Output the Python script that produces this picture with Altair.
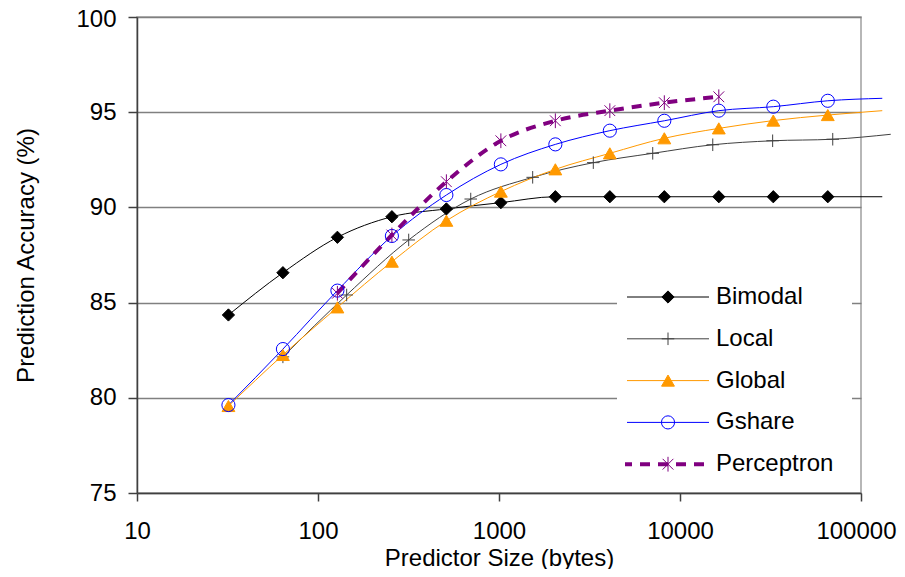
import altair as alt
import pandas as pd

names = ["Bimodal", "Local", "Global", "Gshare", "Perceptron"]

# predictor sizes (bytes) and accuracies (%); the last point of every series
# except Perceptron is where the (marker-less) line ends beyond the last marker
bimodal_x = [32, 64, 128, 256, 512, 1024, 2048, 4096, 8192, 16384, 32768, 65536, 131072]
bimodal_y = [84.35, 86.57, 88.43, 89.51, 89.92, 90.25, 90.56, 90.56, 90.56, 90.56, 90.56, 90.56, 90.56]

local_x = [64, 144, 317, 698, 1535, 3319, 7068, 15170, 32500, 69800, 146000]
local_y = [82.15, 85.40, 88.29, 90.44, 91.58, 92.35, 92.84, 93.29, 93.50, 93.58, 93.84]

global_x = [32, 64, 128, 256, 512, 1024, 2048, 4096, 8192, 16384, 32768, 65536, 131072]
global_y = [79.57, 82.25, 84.75, 87.15, 89.30, 90.83, 92.00, 92.84, 93.63, 94.15, 94.56, 94.85, 95.08]

gshare_x = [32, 64, 128, 256, 512, 1024, 2048, 4096, 8192, 16384, 32768, 65536, 131072]
gshare_y = [79.62, 82.56, 85.63, 88.50, 90.65, 92.26, 93.31, 94.03, 94.55, 95.08, 95.29, 95.60, 95.73]

perceptron_x = [128, 256, 512, 1024, 2048, 4096, 8192, 16384]
perceptron_y = [85.49, 88.55, 91.35, 93.50, 94.55, 95.08, 95.50, 95.81]

marked_counts = [12, 10, 12, 12, 8]

x_ticks = [10, 100, 1000, 10000, 100000]
y_ticks = [75, 80, 85, 90, 95, 100]

series_xy = [(bimodal_x, bimodal_y), (local_x, local_y), (global_x, global_y),
             (gshare_x, gshare_y), (perceptron_x, perceptron_y)]
rows = []
for name, (xs, ys), n in zip(names, series_xy, marked_counts):
    for i, (xv, yv) in enumerate(zip(xs, ys)):
        rows.append({"series": name, "size": xv, "acc": yv, "marker": i < n})
df = pd.DataFrame(rows)
leg = pd.DataFrame({"series": names})

FONT = "Liberation Sans"
line_colors = ["#000000", "#404040", "#FF9900", "#0000FF", "#800080"]
fill_colors = ["#000000", "transparent", "#FF9900", "transparent", "transparent"]
shapes = ["diamond", "M-1,0H1M0,-1V1", "triangle-up", "circle",
          "M-0.8,-0.8L0.8,0.8M-0.8,0.8L0.8,-0.8M0,-1.1V1.1"]
sizes = [150, 180, 200, 256, 360]

stroke_enc = alt.Stroke("series:N", scale=alt.Scale(domain=names, range=line_colors), legend=None)
shape_enc = alt.Shape("series:N", scale=alt.Scale(domain=names, range=shapes), legend=None)
size_enc = alt.Size("series:N", scale=alt.Scale(domain=names, range=sizes), legend=None)
fill_enc = alt.Fill("series:N", scale=alt.Scale(domain=names, range=fill_colors), legend=None)

last_tick = alt.datum.value == 100000
top_tick = alt.datum.value == 100
x_enc = alt.X("size:Q",
              scale=alt.Scale(type="log", domain=[10, 100000], nice=False),
              axis=alt.Axis(values=x_ticks, format="d", grid=False, title="Predictor Size (bytes)",
                            tickSize=8, labelPadding=18, labelFlush=False,
                            labelAlign=alt.condition(last_tick, alt.value("right"), alt.value("center")),
                            labelOffset=alt.condition(last_tick, alt.value(35), alt.value(0)),
                            titleY=72, titleBaseline="alphabetic"))
y_enc = alt.Y("acc:Q",
              scale=alt.Scale(domain=[75, 100], nice=False, zero=False),
              axis=alt.Axis(values=y_ticks, grid=True, title="Prediction Accuracy (%)",
                            tickSize=9, labelPadding=12, labelFlush=False,
                            labelOffset=alt.condition(top_tick, alt.value(2), alt.value(0)),
                            titleX=-111, titleY=238,
                            titleAngle=-90, titleBaseline="middle", titleAlign="center"))

base = alt.Chart(df)
solid_lines = base.transform_filter("datum.series != 'Perceptron'").mark_line(
    interpolate="monotone", strokeWidth=1).encode(
    x=x_enc, y=y_enc, stroke=stroke_enc, detail="series:N")
dash_line = base.transform_filter("datum.series == 'Perceptron'").mark_line(
    interpolate="monotone", strokeWidth=4, strokeDash=[10, 8]).encode(
    x=x_enc, y=y_enc, stroke=stroke_enc)
points = base.transform_filter("datum.marker").mark_point(opacity=1, strokeWidth=1).encode(
    x=x_enc, y=y_enc, shape=shape_enc, size=size_enc, fill=fill_enc, stroke=stroke_enc)

legbase = alt.Chart(leg).transform_window(row="row_number()").transform_calculate(
    py="280 + (datum.row - 1) * 41.8")
py = alt.Y("py:Q", scale=None, axis=None)
leg_box = alt.Chart(pd.DataFrame({"a": [0]})).mark_rect(fill="white").encode(
    x=alt.value(480), x2=alt.value(715), y=alt.value(256), y2=alt.value(474))
leg_rule = legbase.transform_filter("datum.series != 'Perceptron'").mark_rule(strokeWidth=1).encode(
    x=alt.value(490), x2=alt.value(572), y=py, stroke=stroke_enc)
leg_rule_d = legbase.transform_filter("datum.series == 'Perceptron'").mark_rule(
    strokeWidth=4, strokeDash=[10, 8], strokeDashOffset=3).encode(
    x=alt.value(488), x2=alt.value(574), y=py, stroke=stroke_enc)
leg_pt = legbase.mark_point(opacity=1, strokeWidth=1).encode(
    x=alt.value(531), y=py, shape=shape_enc, size=size_enc, fill=fill_enc, stroke=stroke_enc)
leg_txt = legbase.mark_text(align="left", baseline="middle", fontSize=24, font=FONT,
                            color="black").encode(x=alt.value(579), y=py, text="series:N")

chart = alt.layer(solid_lines, dash_line, points, leg_box, leg_rule, leg_rule_d, leg_pt, leg_txt).properties(
    width=724, height=476,
    autosize=alt.AutoSizeParams(type="none"),
    padding={"left": 129, "top": 9, "right": 36, "bottom": 76},
).configure_view(stroke="#a0a0a0", strokeWidth=1.5).configure_axis(
    labelFont=FONT, titleFont=FONT, labelFontSize=24, titleFontSize=24,
    labelColor="black", titleColor="black", titleFontWeight="normal",
    domainColor="#404040", tickColor="#404040", domainWidth=1.5, tickWidth=1.5,
    gridColor="#808080", gridWidth=1.5)

chart.save("out.html", embed_options={"renderer": "svg", "actions": False})
